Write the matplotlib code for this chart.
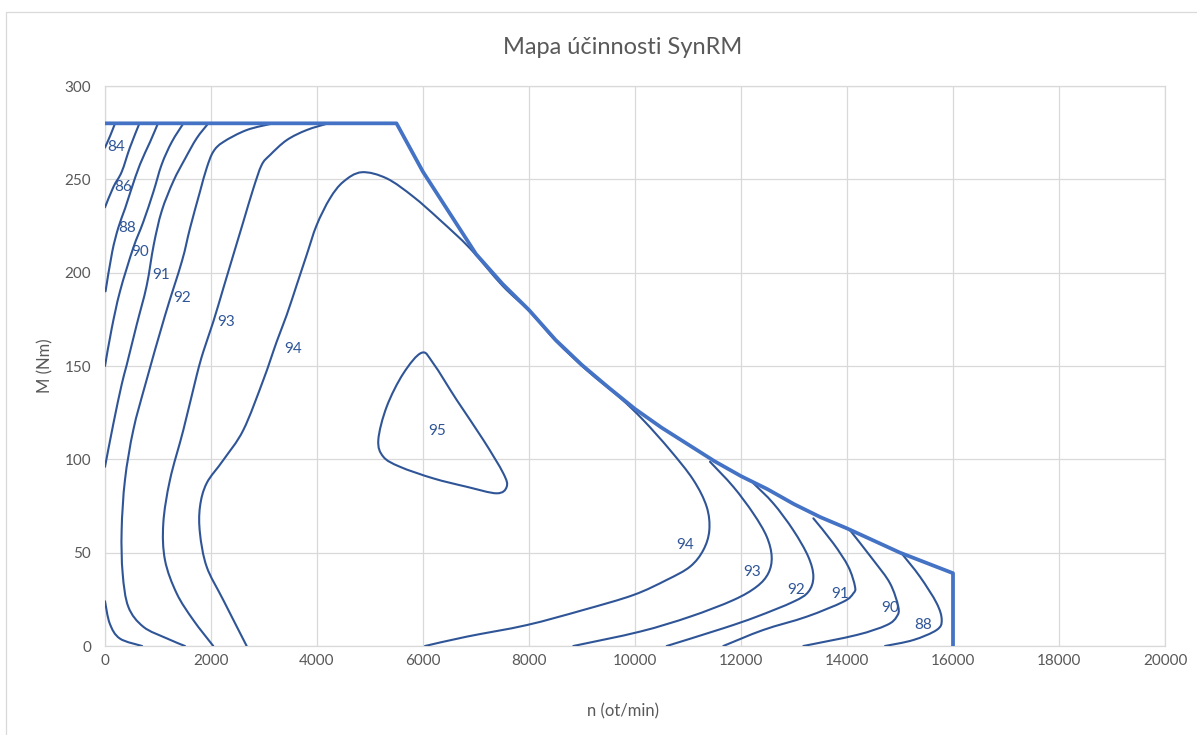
import numpy as np
import matplotlib.pyplot as plt
from matplotlib.path import Path
from matplotlib.patches import PathPatch
from matplotlib.lines import Line2D

plt.rcParams['font.family'] = ['Lato', 'DejaVu Sans']

# ── data (n in ot/min, M in Nm) ─────────────────────────────────────────────
bound_n = [0, 5500, 6000, 6500, 7000, 7500, 8000, 8500, 9000, 9500, 10000,
           10500, 11000, 11500, 12000, 12500, 13000, 13500, 14000, 14500,
           15000, 15500, 16000, 16000]
bound_m = [280, 280, 254, 232, 210, 194, 180, 164, 150.5, 138.5, 127,
           117, 108, 99, 91, 84, 76, 69, 63, 56.5,
           50, 44.5, 39, 0]

n84 = [190, 100, 0]
m84 = [280, 273.5, 267]
n86 = [650, 470, 315, 160, 0]
m86 = [280, 267, 254, 246, 235]
n88 = [1000, 850, 660, 500, 380, 250, 135, 10]
m88 = [280, 270, 258, 245, 234.5, 224, 211, 190]
n90 = [1480, 1260, 1070, 910, 720, 530, 283, 126, 0]
m90 = [280, 270, 258, 243, 227, 213, 190, 170, 150]
n91 = [1950, 1730, 1510, 1290, 1070, 920, 786, 597, 409, 314, 157, 0]
m91 = [280, 272, 261, 249, 233, 215, 193, 172, 150.5, 140, 119, 96]
n92 = [3176, 2673, 2232, 2043, 1918, 1792, 1604, 1450, 1132, 770, 534, 377,
       314, 333, 440, 723, 1164, 1509]
m92 = [280, 276.4, 270, 264.8, 256, 243.4, 223.8, 206, 177, 141, 115.7, 89,
       62, 39, 21, 10.3, 4.1, 0]
n93 = [4214, 3805, 3428, 3113, 2956, 2798, 2610, 2421, 2232, 2043, 1855, 1730,
       1478, 1226, 1100, 1132, 1352, 1666, 2043]
m93 = [280, 276.4, 271, 263, 257.7, 245, 227.3, 209.5, 191.6, 173.7, 157.7, 145,
       115.7, 89, 65.7, 46, 28.2, 13.9, 0]
n94 = [2673, 2232, 1918, 1792, 1792, 1918, 2232, 2610, 2987, 3239, 3428, 3617,
       3805, 3994, 4245, 4497, 4843, 5315, 5817, 6321, 6887, 7500, 8019, 8522,
       9100, 9717, 10157, 10660, 11100, 11352, 11402, 11289, 11038, 10598, 9968,
       9025, 7956, 6824, 6038]
m94 = [0, 24.6, 42.5, 60.4, 74.6, 87.2, 99.6, 115.7, 142.5, 163, 177.3, 193.4,
       209.5, 225.5, 239.8, 248.7, 253.8, 250.5, 240.7, 228.2, 213, 193, 179,
       163, 147.5, 133, 121, 105, 89, 74.6, 62, 51.4, 42.5, 35.4, 27.3,
       19.3, 11.2, 5, 0]
n95 = [5975, 5629, 5315, 5157, 5251, 5566, 6194, 6824, 7391, 7579, 7515, 7138,
       6636, 6194]
m95 = [157.1, 146, 128.2, 110.4, 101.4, 96, 89.8, 85.3, 81.8, 85.3, 92.5, 110.4,
       131.8, 151.4]
nlow = [0, 90, 280, 700]
mlow = [24, 12, 4, 0]
n93r = [11415, 11855, 12232, 12485, 12579, 12516, 12296, 11855, 11038, 10094, 8836]
m93r = [98.7, 85.3, 71, 58.6, 47.8, 39, 31.8, 24.6, 15.7, 7.7, 0]
n92r = [12232, 12610, 12987, 13270, 13365, 13270, 12987, 12296, 11666, 10598]
m92r = [87.2, 76.4, 62, 47.8, 37.1, 29, 23.7, 15.7, 9.5, 0]
n91r = [13365, 13742, 14025, 14151, 14119, 13930, 13239, 12421, 11666]
m91r = [68.4, 55, 42.5, 31.8, 28.2, 23.7, 15.7, 8.6, 0]
n90r = [14057, 14497, 14811, 14968, 14937, 14749, 14183, 13176]
m90r = [62, 46, 33.6, 21, 15.7, 11.2, 5.9, 0]
n88r = [15031, 15377, 15692, 15787, 15692, 15251, 14717]
m88r = [49.6, 37.1, 22.9, 13.9, 8.6, 3.2, 0]

lab_txt = ["84", "86", "88", "90", "91", "92", "93", "94", "95",
           "94", "93", "92", "91", "90", "88"]
lab_n = [208, 333, 409, 660, 1057, 1447, 2283, 3541, 6264,
         10943, 12207, 13038, 13868, 14811, 15434]
lab_m = [267.5, 246, 224, 211, 198.7, 186.3, 173.7, 159, 115,
         54.1, 39.6, 30, 27.9, 20.4, 11.2]

DARK = "#2F5597"
LIGHT = "#4472C4"
GREY = "#595959"


def smooth_path(xs, ys, closed=False):
    # Excel-like smoothed line: cubic Bezier through the points
    p = np.column_stack([xs, ys]).astype(float)
    if closed:
        ext = np.vstack([p[-1], p, p[0], p[1]])
        k = len(p)
    else:
        ext = np.vstack([p[0], p, p[-1]])
        k = len(p) - 1
    verts = [p[0]]
    codes = [Path.MOVETO]
    for i in range(k):
        p0, p1, p2, p3 = ext[i], ext[i + 1], ext[i + 2], ext[i + 3]
        verts += [p1 + (p2 - p0) / 6, p2 - (p3 - p1) / 6, p2]
        codes += [Path.CURVE4] * 3
    return Path(verts, codes)


fig = plt.figure(figsize=(11.97, 7.35), dpi=100)
ax = fig.add_axes([105 / 1197, 1 - 646 / 735, 1060 / 1197, 560 / 735])

curves = [(n84, m84), (n86, m86), (n88, m88), (n90, m90), (n91, m91),
          (n92, m92), (n93, m93), (n94, m94), (nlow, mlow),
          (n93r, m93r), (n92r, m92r), (n91r, m91r), (n90r, m90r), (n88r, m88r)]
for xs, ys in curves:
    ax.add_patch(PathPatch(smooth_path(xs, ys), fill=False, edgecolor=DARK,
                           lw=1.5, zorder=3, capstyle="round"))
ax.add_patch(PathPatch(smooth_path(n95, m95, closed=True), fill=False,
                       edgecolor=DARK, lw=1.5, zorder=3))

ax.plot(bound_n, bound_m, color=LIGHT, lw=2.7, zorder=4,
        solid_joinstyle="round")

for t, x, y in zip(lab_txt, lab_n, lab_m):
    ax.text(x, y, t, color=DARK, fontsize=11, ha="center", va="center",
            zorder=5)

ax.set_xlim(0, 20000)
ax.set_ylim(0, 300)
ax.set_xticks(range(0, 20001, 2000))
ax.set_yticks(range(0, 301, 50))
ax.grid(True, color="#D9D9D9", lw=0.9)
ax.set_axisbelow(True)
for s in ax.spines.values():
    s.set_color("#D9D9D9")
    s.set_linewidth(0.9)
ax.tick_params(length=0, labelcolor=GREY, labelsize=11)
ax.tick_params(axis="y", pad=10)
ax.tick_params(axis="x", pad=6)

ax.set_xlabel("n (ot/min)", color=GREY, fontsize=12)
ax.set_ylabel("M (Nm)", color=GREY, fontsize=12)
ax.xaxis.set_label_coords((623 - 105) / 1060, (646 - 703) / 560)
ax.yaxis.set_label_coords((53 - 105) / 1060, 0.5)

fig.text(623 / 1197, 1 - 47 / 735, "Mapa účinnosti SynRM", color=GREY,
         fontsize=17, ha="center", va="center")

# chart area frame
fig.add_artist(Line2D([6 / 1197, 6 / 1197, 1], [0, 1 - 12 / 735, 1 - 12 / 735],
                      color="#D9D9D9", lw=0.9))

fig.savefig("out.png", dpi=100)
